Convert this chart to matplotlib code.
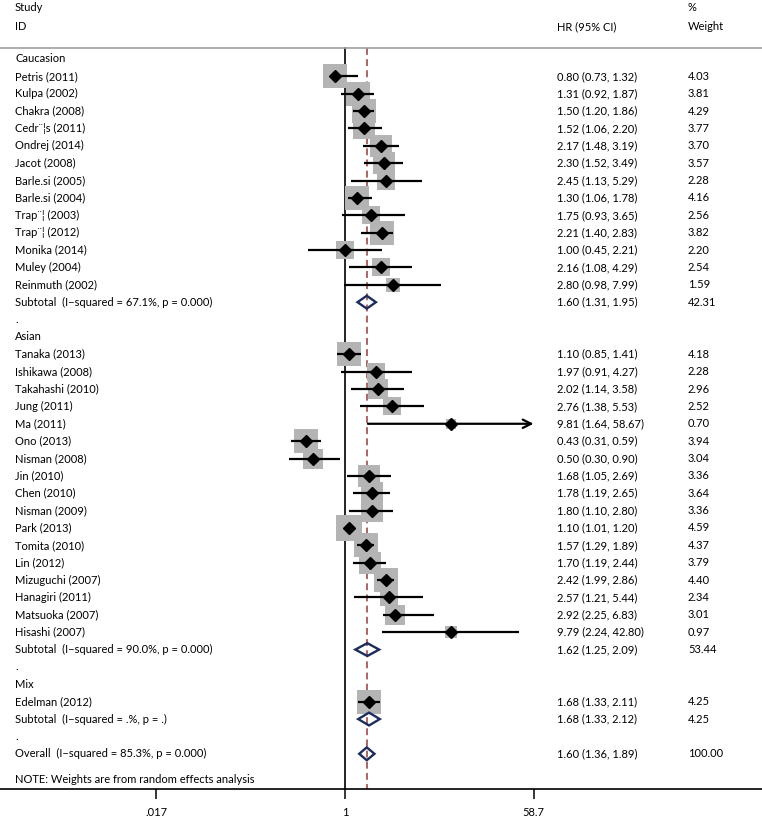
import matplotlib
matplotlib.use("Agg")
import matplotlib.pyplot as plt
import numpy as np
from matplotlib.patches import Polygon

plt.rcParams["font.family"] = ["Lato", "DejaVu Sans"]

# study rows: (name, HR, lower, upper, weight)
cauc_names = ["Petris (2011)", "Kulpa (2002)", "Chakra (2008)", "Cedr¨¦s (2011)",
              "Ondrej (2014)", "Jacot (2008)", "Barle.si (2005)", "Barle.si (2004)",
              "Trap¨¦ (2003)", "Trap¨¦ (2012)", "Monika (2014)", "Muley (2004)",
              "Reinmuth (2002)"]
cauc_hr = [0.80, 1.31, 1.50, 1.52, 2.17, 2.30, 2.45, 1.30, 1.75, 2.21, 1.00, 2.16, 2.80]
cauc_lo = [0.73, 0.92, 1.20, 1.06, 1.48, 1.52, 1.13, 1.06, 0.93, 1.40, 0.45, 1.08, 0.98]
cauc_hi = [1.32, 1.87, 1.86, 2.20, 3.19, 3.49, 5.29, 1.78, 3.65, 2.83, 2.21, 4.29, 7.99]
cauc_w = [4.03, 3.81, 4.29, 3.77, 3.70, 3.57, 2.28, 4.16, 2.56, 3.82, 2.20, 2.54, 1.59]

asian_names = ["Tanaka (2013)", "Ishikawa (2008)", "Takahashi (2010)", "Jung (2011)",
               "Ma (2011)", "Ono (2013)", "Nisman (2008)", "Jin (2010)", "Chen (2010)",
               "Nisman (2009)", "Park (2013)", "Tomita (2010)", "Lin (2012)",
               "Mizuguchi (2007)", "Hanagiri (2011)", "Matsuoka (2007)", "Hisashi (2007)"]
asian_hr = [1.10, 1.97, 2.02, 2.76, 9.81, 0.43, 0.50, 1.68, 1.78, 1.80, 1.10, 1.57, 1.70,
            2.42, 2.57, 2.92, 9.79]
asian_lo = [0.85, 0.91, 1.14, 1.38, 1.64, 0.31, 0.30, 1.05, 1.19, 1.10, 1.01, 1.29, 1.19,
            1.99, 1.21, 2.25, 2.24]
asian_hi = [1.41, 4.27, 3.58, 5.53, 58.67, 0.59, 0.90, 2.69, 2.65, 2.80, 1.20, 1.89, 2.44,
            2.86, 5.44, 6.83, 42.80]
asian_w = [4.18, 2.28, 2.96, 2.52, 0.70, 3.94, 3.04, 3.36, 3.64, 3.36, 4.59, 4.37, 3.79,
           4.40, 2.34, 3.01, 0.97]

mix_names = ["Edelman (2012)"]
mix_hr = [1.68]
mix_lo = [1.33]
mix_hi = [2.11]
mix_w = [4.25]

group_labels = ["Caucasion", "Asian", "Mix"]
sub_hr = [1.60, 1.62, 1.68]
sub_lo = [1.31, 1.25, 1.33]
sub_hi = [1.95, 2.09, 2.12]
sub_w = [42.31, 53.44, 4.25]
sub_i2 = ["67.1%", "90.0%", ".%"]
sub_p = ["0.000", "0.000", "."]

overall = (1.60, 1.36, 1.89, 100.00)
overall_i2 = "85.3%"
overall_p = "0.000"

xticks = [0.017, 1, 58.7]
xtick_labels = [".017", "1", "58.7"]

groups = [
    (cauc_names, cauc_hr, cauc_lo, cauc_hi, cauc_w),
    (asian_names, asian_hr, asian_lo, asian_hi, asian_w),
    (mix_names, mix_hr, mix_lo, mix_hi, mix_w),
]

W, H = 762, 818
fig = plt.figure(figsize=(W / 100, H / 100), dpi=100)
axis_px = 789          # pixel row of the x axis line
row0, drow = 59, 17.37  # first row pixel, row spacing
ax = fig.add_axes([0, 1 - axis_px / H, 1, axis_px / H])
ax.set_xscale("log")
px_per_ln = 46.3
x_one = 345
ax.set_xlim(np.exp(-x_one / px_per_ln), np.exp((W - x_one) / px_per_ln))
ax.set_ylim((axis_px - row0) / drow, -row0 / drow)

for s in ["left", "right", "top"]:
    ax.spines[s].set_visible(False)
ax.spines["bottom"].set_linewidth(1.2)
ax.set_yticks([])
ax.set_xticks(xticks)
ax.set_xticklabels(xtick_labels, fontsize=8)
ax.xaxis.set_minor_locator(matplotlib.ticker.NullLocator())
ax.tick_params(axis="x", length=7, width=1.1, pad=6)

fs = 8
col_id = 15 / W
col_hr = 557 / W
col_wt = 688 / W
tr = ax.get_yaxis_transform()

def txt(xf, r, s):
    ax.text(xf, r, s, transform=tr, fontsize=fs, va="center", ha="left")

# header
txt(col_id, -2.95, "Study")
txt(col_id, -1.85, "ID")
txt(col_hr, -1.85, "HR (95% CI)")
txt(col_wt, -2.95, "%")
txt(col_wt, -1.85, "Weight")
sep_row = -0.65
ax.axhline(sep_row, color="#a0a0a0", lw=1.2)

bottom = (axis_px - row0) / drow
ax.plot([1, 1], [sep_row, bottom], color="black", lw=1.2, zorder=1)
ax.plot([overall[0]] * 2, [sep_row, bottom], color="#a03535", lw=1.1,
        dashes=(4.5, 2.8), zorder=1)

navy = "#1c2c5e"

def sub_diamond(r, est, lo, hi, h=0.37):
    poly = Polygon([(lo, r), (est, r - h), (hi, r), (est, r + h)], closed=True,
                   fill=False, edgecolor=navy, lw=1.7, zorder=4)
    ax.add_patch(poly)

row = 0
for gi, (names, hr, lo, hi, w) in enumerate(groups):
    txt(col_id, row, group_labels[gi])
    row += 1
    for j in range(len(names)):
        txt(col_id, row, names[j])
        txt(col_hr, row, f"{hr[j]:.2f} ({lo[j]:.2f}, {hi[j]:.2f})")
        txt(col_wt, row, f"{w[j]:.2f}")
        ax.scatter([hr[j]], [row], marker="s", s=72 * w[j], color="#b4b4b4",
                   linewidths=0, zorder=2)
        if hi[j] >= 0.999 * max(xticks):
            ax.annotate("", xy=(max(xticks), row), xytext=(lo[j], row),
                        arrowprops=dict(arrowstyle="->", lw=1.6, color="black",
                                        mutation_scale=15, shrinkA=0, shrinkB=0),
                        zorder=3)
        else:
            ax.plot([lo[j], hi[j]], [row, row], color="black", lw=1.6, zorder=3,
                    solid_capstyle="butt")
        ax.plot([hr[j]], [row], marker="D", ms=6, color="black", zorder=5)
        row += 1
    txt(col_id, row, f"Subtotal  (I\u2212squared = {sub_i2[gi]}, p = {sub_p[gi]})")
    txt(col_hr, row, f"{sub_hr[gi]:.2f} ({sub_lo[gi]:.2f}, {sub_hi[gi]:.2f})")
    txt(col_wt, row, f"{sub_w[gi]:.2f}")
    sub_diamond(row, sub_hr[gi], sub_lo[gi], sub_hi[gi])
    row += 1
    txt(col_id, row, ".")
    row += 1

txt(col_id, row, f"Overall  (I\u2212squared = {overall_i2}, p = {overall_p})")
txt(col_hr, row, f"{overall[0]:.2f} ({overall[1]:.2f}, {overall[2]:.2f})")
txt(col_wt, row, f"{overall[3]:.2f}")
sub_diamond(row, overall[0], overall[1], overall[2])
txt(col_id, row + 1.5, "NOTE: Weights are from random effects analysis")

fig.savefig("out.png", dpi=100)
